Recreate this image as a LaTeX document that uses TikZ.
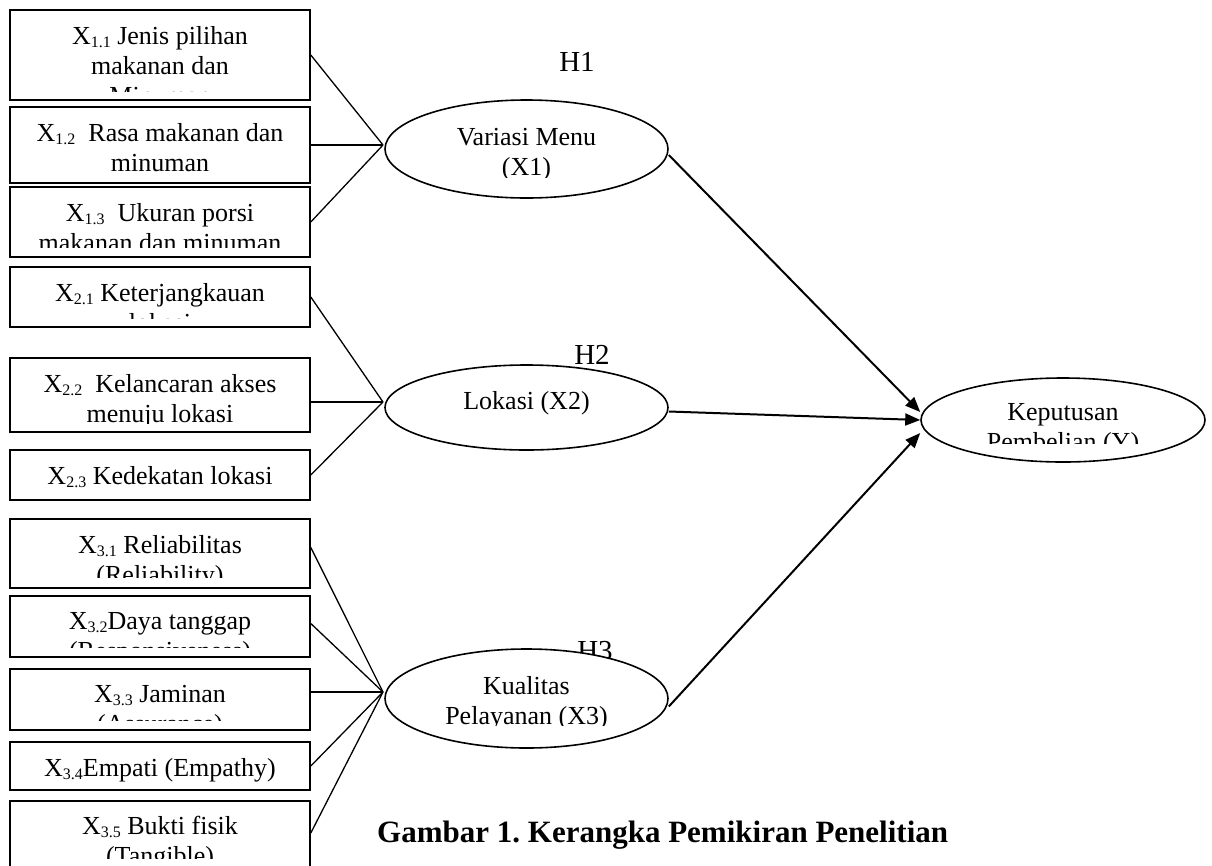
\documentclass[tikz,border=0pt]{standalone}
\usepackage{fontspec}
\setmainfont{Liberation Serif}
\usetikzlibrary{arrows.meta,shapes.geometric}
\tikzset{
	indbox/.style={draw, line width=1.6pt, minimum width=300pt, inner sep=0pt},
	varell/.style={draw, ellipse, line width=1.6pt, fill=white, inner sep=0pt},
	btext/.style={text width=292pt, align=flush center, inner sep=0pt, font=\fontsize{26}{30}\selectfont},
	etext/.style={text width=250pt, align=flush center, inner sep=0pt, font=\fontsize{26}{30}\selectfont},
	hlab/.style={inner sep=0pt, font=\fontsize{29}{34}\selectfont},
	link/.style={line width=1.3pt},
	effect/.style={line width=2pt, -{Triangle[length=15pt,width=12pt]}}
}
\frenchspacing
\newcommand{\subx}[1]{\raisebox{-3pt}{\fontsize{16}{16}\selectfont#1}}
\def\cliptext[#1](#2:#3:#4)#5{\begin{scope}\clip ([yshift=#4]#2.south -| #2.west) rectangle (#2.north -| #2.east);\node[#1, anchor=north] (#2t) at ([yshift=-#3]#2.north) {#5};\end{scope}}

\begin{document}
\begin{tikzpicture}[x=1pt, y=-1pt]
	%%%%% START %%%%%
	\useasboundingbox (0,0) rectangle (1212,865);
	\clip (0,0) rectangle (1212,865);
	
	% indikator X1
	\node[indbox, minimum height=90pt] (x11) at (160,55) {};
	\node[indbox, minimum height=76pt] (x12) at (160,145) {};
	\node[indbox, minimum height=70pt] (x13) at (160,222) {};
	\cliptext[btext](x11:17pt:9pt){X\subx{1.1} Jenis pilihan\\makanan dan\\Minuman}
	\cliptext[btext](x12:17pt:9pt){X\subx{1.2}\ \ Rasa makanan dan\\minuman}
	\cliptext[btext](x13:17pt:10pt){X\subx{1.3}\ \ Ukuran porsi\\makanan dan minuman}
	
	% indikator X2
	\node[indbox, minimum height=60pt] (x21) at (160,297) {};
	\node[indbox, minimum height=74pt] (x22) at (160,395) {};
	\node[indbox, minimum height=50pt] (x23) at (160,475) {};
	\cliptext[btext](x21:17pt:9pt){X\subx{2.1} Keterjangkauan\\lokasi}
	\cliptext[btext](x22:17pt:9pt){X\subx{2.2}\ \ Kelancaran akses\\menuju lokasi}
	\cliptext[btext](x23:17pt:5pt){X\subx{2.3} Kedekatan lokasi}
	
	% indikator X3
	\node[indbox, minimum height=69pt] (x31) at (160,553.5) {};
	\node[indbox, minimum height=61pt] (x32) at (160,626.5) {};
	\node[indbox, minimum height=61pt] (x33) at (160,699.5) {};
	\node[indbox, minimum height=48pt] (x34) at (160,766) {};
	\node[indbox, minimum height=84pt] (x35) at (160,843) {};
	\cliptext[btext](x31:17pt:11pt){X\subx{3.1} Reliabilitas\\(Reliability)}
	\cliptext[btext](x32:17pt:10pt){X\subx{3.2}Daya tanggap\\(Responsiveness)}
	\cliptext[btext](x33:17pt:10pt){X\subx{3.3} Jaminan\\(Assurance)}
	\cliptext[btext](x34:17pt:5pt){X\subx{3.4}Empati (Empathy)}
	\cliptext[btext](x35:16pt:27pt){X\subx{3.5} Bukti fisik\\(Tangible)}
	
	\coordinate (j1) at (383,145);
	\coordinate (j2) at (383,402);
	\coordinate (j3) at (383,692);
	
	\draw[link] (x11.east) -- (j1);
	\draw[link] (x12.east) -- (j1);
	\draw[link] (x13.east) -- (j1);
	\draw[link] (x21.east) -- (j2);
	\draw[link] (x22.east |- j2) -- (j2);
	\draw[link] (x23.east) -- (j2);
	\draw[link] ([yshift=6pt]x31.east) -- (j3);
	\draw[link] ([yshift=3pt]x32.east) -- (j3);
	\draw[link] (x33.east |- j3) -- (j3);
	\draw[link] (x34.east) -- (j3);
	\draw[link] ([yshift=10pt]x35.east) -- (j3);
	
	% hipotesis
	\node[hlab] (h1) at (577,62) {H1};
	\node[hlab] (h2) at (592,355) {H2};
	\node[hlab] (h3) at (595,651) {H3};
	
	% variabel
	\node[varell, minimum width=283pt, minimum height=98pt] (var) at (526.5,149) {};
	\node[varell, minimum width=283pt, minimum height=85pt] (lok) at (526.5,407.5) {};
	\node[varell, minimum width=283pt, minimum height=99pt] (kua) at (526.5,698.5) {};
	\node[varell, minimum width=284pt, minimum height=84pt] (kep) at (1063,420) {};
	\cliptext[etext](var:29pt:21pt){Variasi Menu\\(X1)}
	\cliptext[etext](lok:27pt:5pt){Lokasi (X2)}
	\cliptext[etext](kua:28pt:23pt){Kualitas\\Pelayanan (X3)}
	\cliptext[etext](kep:26pt:19pt){Keputusan\\Pembelian (Y)}
	
	\draw[effect] ([yshift=-6pt]var.east) -- ([yshift=8pt]kep.west);
	\draw[effect] ([yshift=-4pt]lok.east) -- (kep.west);
	\draw[effect] ([yshift=-8pt]kua.east) -- ([yshift=-13pt]kep.west);
	
	\node[anchor=base west, inner sep=0pt, font=\bfseries\fontsize{31}{36}\selectfont] (judul) at (377,842) {Gambar 1. Kerangka Pemikiran Penelitian};
	
	%%%%% END %%%%%
\end{tikzpicture}
\end{document}
